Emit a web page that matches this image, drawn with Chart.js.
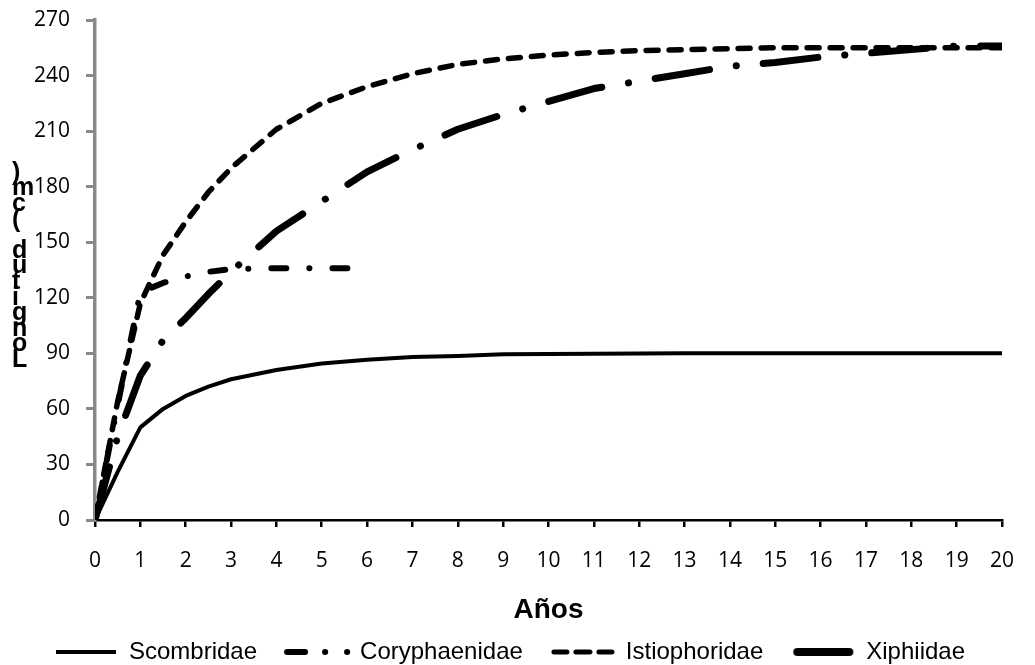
<!DOCTYPE html>
<html>
<head>
<meta charset="utf-8">
<script src="https://cdn.jsdelivr.net/npm/chart.js@4.4.1/dist/chart.umd.min.js"></script>
<style>
  html, body { margin: 0; padding: 0; background: #fff; }
  #wrap { width: 1035px; height: 665px; position: relative; }
</style>
</head>
<body>
<div id="wrap"><canvas id="chartCrecimiento"></canvas></div>
<script>
// Edades (años) en las que se evalúa cada curva
var edades = [0, 0.5, 1, 1.5, 2, 2.5, 3, 4, 5, 6, 7, 8, 9, 10, 11, 12, 13, 14, 15, 16, 17, 18, 19, 20];

// Longitud (cm) por familia
var scombridae    = [0, 26, 50, 60, 67, 72, 76, 81, 84.5, 86.5, 88, 88.5, 89.5, 89.7, 89.8, 89.9, 90, 90, 90, 90, 90, 90, 90, 90];
var coryphaenidae = [0, 62, 123, 128, 131.5, 134, 135.5, 136, 136, 136];
var istiophoridae = [0, 64, 117, 143, 161, 177, 190, 211, 225, 234, 241, 246, 249, 251, 252.5, 253.5, 254, 254.5, 255, 255, 255, 255, 255, 255];
var xiphiidae     = [0, 45, 78, 97, 109, 122, 134, 156, 172, 188, 200, 211, 219, 226, 233, 237, 241, 245, 247, 250, 252, 254, 256, 256];

var familias = ['Scombridae', 'Coryphaenidae', 'Istiophoridae', 'Xiphiidae'];
var ticksY = [0, 30, 60, 90, 120, 150, 180, 210, 240, 270];

// pares {x, y}; una serie puede ser más corta que las edades
function puntos(valores) {
    var out = [];
    for (var i = 0; i < valores.length; i++) {
        out.push({ x: edades[i], y: valores[i] });
    }
    return out;
}

// muestras de línea para la leyenda
function muestra(ancho, dibujar) {
    var c = document.createElement('canvas');
    c.width = ancho;
    c.height = 14;
    var g = c.getContext('2d');
    g.strokeStyle = '#000';
    dibujar(g);
    return c;
}

var muestras = [
    muestra(62, function (g) {
        g.lineWidth = 4;
        g.beginPath(); g.moveTo(1, 7); g.lineTo(61, 7); g.stroke();
    }),
    muestra(68, function (g) {
        g.lineWidth = 6;
        g.lineCap = 'round';
        g.beginPath(); g.moveTo(4, 7); g.lineTo(22, 7); g.stroke();
        g.beginPath(); g.moveTo(42, 7); g.lineTo(42.1, 7); g.stroke();
        g.beginPath(); g.moveTo(64, 7); g.lineTo(64.1, 7); g.stroke();
    }),
    muestra(64, function (g) {
        g.lineWidth = 5;
        g.lineCap = 'round';
        [[3, 16], [25, 39], [48, 61]].forEach(function (s) {
            g.beginPath(); g.moveTo(s[0], 7); g.lineTo(s[1], 7); g.stroke();
        });
    }),
    muestra(64, function (g) {
        g.lineWidth = 8;
        g.lineCap = 'round';
        g.beginPath(); g.moveTo(6, 7); g.lineTo(58, 7); g.stroke();
    })
];

// título del eje Y: letras apiladas de abajo hacia arriba
var tituloEjeY = {
    id: 'tituloEjeY',
    afterDraw: function (chart) {
        var ctx = chart.ctx;
        var letras = 'Longitud (cm)'.split('');
        ctx.save();
        ctx.font = 'bold 25px "Liberation Sans", Arial, sans-serif';
        ctx.fillStyle = '#000';
        ctx.textAlign = 'left';
        ctx.textBaseline = 'alphabetic';
        for (var i = 0; i < letras.length; i++) {
            ctx.fillText(letras[i], 12, 367 - i * 15.6);
        }
        ctx.restore();
    }
};

var ctx = document.getElementById('chartCrecimiento');

new Chart(ctx.getContext('2d'), {
    type: 'line',
    data: {
        datasets: [
            {
                label: familias[0],
                data: puntos(scombridae),
                borderColor: '#000',
                borderWidth: 4,
                borderCapStyle: 'round',
                borderJoinStyle: 'round'
            },
            {
                label: familias[1],
                data: puntos(coryphaenidae),
                borderColor: '#000',
                borderWidth: 6,
                borderDash: [15, 23, 0.1, 23],
                borderCapStyle: 'round',
                borderJoinStyle: 'round'
            },
            {
                label: familias[2],
                data: puntos(istiophoridae),
                borderColor: '#000',
                borderWidth: 5.5,
                borderDash: [12, 11],
                borderCapStyle: 'round',
                borderJoinStyle: 'round'
            },
            {
                label: familias[3],
                data: puntos(xiphiidae),
                borderColor: '#000',
                borderWidth: 7,
                borderDash: [55, 27, 0.1, 27],
                borderCapStyle: 'round',
                borderJoinStyle: 'round'
            }
        ]
    },
    options: {
        responsive: true,
        maintainAspectRatio: false,
        animation: false,
        layout: {
            padding: { top: 20, right: 15, left: 0, bottom: -9 }
        },
        elements: {
            point: { radius: 0, hoverRadius: 0 },
            line: { tension: 0, fill: false }
        },
        plugins: {
            tooltip: { enabled: false },
            legend: {
                display: true,
                position: 'bottom',
                labels: {
                    usePointStyle: true,
                    pointStyleWidth: 62,
                    padding: 29,
                    color: '#000',
                    font: { family: '"Liberation Sans", Arial, sans-serif', size: 24 },
                    generateLabels: function (chart) {
                        return chart.data.datasets.map(function (ds, i) {
                            return {
                                text: ds.label,
                                pointStyle: muestras[i],
                                fillStyle: 'transparent',
                                strokeStyle: 'transparent',
                                lineWidth: 0,
                                fontColor: '#000',
                                hidden: false,
                                datasetIndex: i
                            };
                        });
                    }
                }
            }
        },
        scales: {
            x: {
                type: 'linear',
                min: 0,
                max: 20,
                border: { color: '#000', width: 2.5 },
                grid: {
                    drawOnChartArea: false,
                    drawTicks: true,
                    tickLength: 7,
                    color: '#000',
                    lineWidth: 2.5
                },
                ticks: {
                    stepSize: 1,
                    autoSkip: false,
                    maxRotation: 0,
                    padding: 21,
                    color: '#000',
                    font: { family: '"Open Sans", sans-serif', size: 21 }
                },
                title: {
                    display: true,
                    text: 'Años',
                    color: '#000',
                    padding: { top: 0, bottom: -16 },
                    font: { family: '"Liberation Sans", Arial, sans-serif', size: 28, weight: 'bold' }
                },
                afterFit: function (scale) {
                    scale.height = 91;
                }
            },
            y: {
                min: 0,
                max: 270,
                border: { color: '#898989', width: 3.5 },
                grid: {
                    drawOnChartArea: false,
                    drawTicks: true,
                    tickLength: 9,
                    color: '#898989',
                    lineWidth: 3
                },
                afterBuildTicks: function (scale) {
                    scale.ticks = ticksY.map(function (v) { return { value: v }; });
                },
                ticks: {
                    padding: 16,
                    color: '#000',
                    font: { family: '"Open Sans", sans-serif', size: 21 }
                },
                afterFit: function (scale) {
                    scale.width = 95;
                    scale.paddingTop = 0;
                    scale.paddingBottom = 0;
                }
            }
        }
    },
    plugins: [tituloEjeY]
});
</script>
</body>
</html>
